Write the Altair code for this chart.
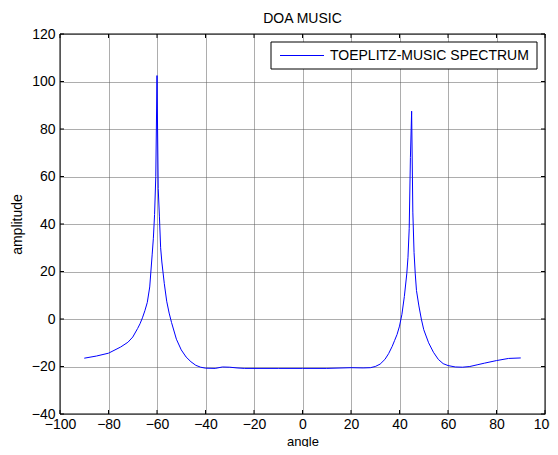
import altair as alt
import pandas as pd

# ---- data ----
angle = [-90, -85, -80, -75, -72, -70, -68, -67, -66, -65,
         -64, -63, -62, -61.5, -61, -60.5, -60, -59.5, -59, -58.5,
         -58, -57, -56, -55, -54, -52, -50, -48, -46, -44,
         -42, -40, -36, -33, -30, -27, -24, -20, -10, 0,
         10, 20, 25, 28, 30, 32, 34, 35.5, 37, 38,
         39, 40, 41, 42, 43, 43.5, 44, 44.5, 45, 45.5,
         46, 46.5, 47, 48, 49, 50, 52, 54, 56, 58,
         60, 63, 66, 69, 72, 75, 80, 85, 90]
amplitude = [-16.5, -15.6, -14.4, -11.8, -9.8, -7.6, -4.0, -2.0, 0.5, 3.5,
             7.0, 13.5, 27.0, 34.0, 44.0, 60.0, 102.5, 55.0, 43.0, 30.0,
             24.0, 15.0, 7.5, 2.5, -1.5, -8.5, -13.0, -16.0, -18.0, -19.5,
             -20.3, -20.7, -20.8, -20.2, -20.3, -20.6, -20.8, -20.8, -20.8, -20.8,
             -20.8, -20.5, -20.6, -20.5, -20.0, -19.0, -17.0, -14.6, -11.5, -9.0,
             -6.5, -3.0, 2.0, 9.5, 19.0, 26.0, 38.0, 68.0, 87.5, 45.0,
             28.0, 19.0, 12.0, 5.5, 0.0, -4.5, -10.0, -14.0, -17.0, -18.8,
             -19.6, -20.2, -20.3, -20.0, -19.3, -18.6, -17.5, -16.6, -16.4]
x_ticks = [-100, -80, -60, -40, -20, 0, 20, 40, 60, 80, 100]
y_ticks = [-40, -20, 0, 20, 40, 60, 80, 100, 120]
chart_title = "DOA MUSIC"
x_title = "angle"
y_title = "amplitude"
legend_label = "TOEPLITZ-MUSIC SPECTRUM"

# ---- layout ----
W, H = 485, 380
FONT = "Liberation Sans"
FS = 14

df = pd.DataFrame({"angle": angle, "amplitude": amplitude})
xt = pd.DataFrame({"t": x_ticks})
yt = pd.DataFrame({"t": y_ticks})
lg = pd.DataFrame({"label": [legend_label]})

xscale = alt.Scale(domain=[-100, 100], nice=False, zero=False)
yscale = alt.Scale(domain=[-40, 120], nice=False, zero=False)

GRID = dict(gridColor="#5a5a5a", gridDash=[1, 1], gridWidth=1, gridOpacity=1)

xaxis = alt.Axis(values=x_ticks, title=x_title, grid=True, ticks=False, domain=False,
                 labelPadding=3, labelFlush=False, labelOverlap=False,
                 labelFont=FONT, labelFontSize=FS, labelColor="black",
                 titleFont=FONT, titleFontSize=13, titleColor="black", titleFontWeight="normal",
                 titleX=W / 2, titleY=27, titleBaseline="middle", titleAlign="center",
                 **GRID)
yaxis = alt.Axis(values=y_ticks, title=y_title, grid=True, ticks=False, domain=False,
                 labelPadding=5, labelFlush=False, labelOverlap=False,
                 labelFont=FONT, labelFontSize=FS, labelColor="black",
                 titleFont=FONT, titleFontSize=FS, titleColor="black", titleFontWeight="normal",
                 titleX=-43, titleY=H / 2, titleAngle=270,
                 titleBaseline="middle", titleAlign="center",
                 **GRID)

line = alt.Chart(df).mark_line(color="#0000ff", strokeWidth=1, clip=True).encode(
    x=alt.X("angle:Q", scale=xscale, axis=xaxis),
    y=alt.Y("amplitude:Q", scale=yscale, axis=yaxis),
)

tick_bottom = alt.Chart(xt).mark_rule(color="black", strokeWidth=1).encode(
    x=alt.X("t:Q", scale=xscale, axis=xaxis), y=alt.value(H), y2=alt.value(H - 4))
tick_top = alt.Chart(xt).mark_rule(color="black", strokeWidth=1).encode(
    x=alt.X("t:Q", scale=xscale, axis=xaxis), y=alt.value(0), y2=alt.value(4))
tick_left = alt.Chart(yt).mark_rule(color="black", strokeWidth=1).encode(
    y=alt.Y("t:Q", scale=yscale, axis=yaxis), x=alt.value(0), x2=alt.value(4))
tick_right = alt.Chart(yt).mark_rule(color="black", strokeWidth=1).encode(
    y=alt.Y("t:Q", scale=yscale, axis=yaxis), x=alt.value(W), x2=alt.value(W - 4))

legend_box = alt.Chart(lg).mark_rect(fill="white", stroke="black", strokeWidth=1).encode(
    x=alt.value(211), x2=alt.value(477), y=alt.value(8), y2=alt.value(35))
legend_line = alt.Chart(lg).mark_rule(color="#0000ff", strokeWidth=1).encode(
    x=alt.value(220), x2=alt.value(264), y=alt.value(21.5))
legend_text = alt.Chart(lg).mark_text(align="left", baseline="middle", font=FONT,
                                      fontSize=FS, color="black").encode(
    x=alt.value(270), y=alt.value(21.5), text="label:N")

frame = alt.Chart(lg).mark_rect(fillOpacity=0, stroke="black", strokeWidth=1).encode(
    x=alt.value(0), x2=alt.value(W), y=alt.value(0), y2=alt.value(H))

chart = alt.layer(
    line, tick_bottom, tick_top, tick_left, tick_right,
    legend_box, legend_line, legend_text, frame
).properties(
    width=W, height=H,
    background="white",
    title=alt.TitleParams(chart_title, font=FONT, fontSize=FS, fontWeight="normal",
                          color="black", anchor="middle", offset=1),
    autosize=alt.AutoSizeParams(type="none"),
    padding={"left": 52, "top": 26, "right": 5, "bottom": 33},
).configure_view(stroke=None)

chart.save("out.html", embed_options={"renderer": "svg", "actions": False})
